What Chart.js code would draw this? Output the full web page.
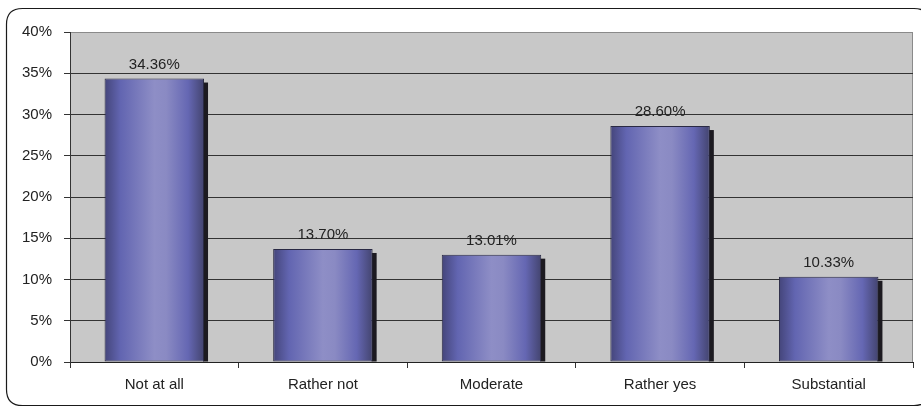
<!DOCTYPE html>
<html>
<head>
<meta charset="utf-8">
<script src="https://cdn.jsdelivr.net/npm/chart.js@4/dist/chart.umd.min.js"></script>
<style>
  html, body { margin: 0; padding: 0; background: #ffffff; }
  #wrap { width: 921px; height: 408px; position: relative; }
</style>
</head>
<body>
<div id="wrap"><canvas id="c" width="921" height="408"></canvas></div>
<script>
// Answer categories and their shares (percent)
const categories = ['Not at all', 'Rather not', 'Moderate', 'Rather yes', 'Substantial'];
const shares = [34.36, 13.70, 13.01, 28.60, 10.33];
const yTicks = [0, 5, 10, 15, 20, 25, 30, 35, 40];

const FONT = '"Liberation Sans", Arial, sans-serif';
const BAR_PCT = 0.59;

// Horizontal "cylinder" shading for each bar
function barGradient(context) {
  const chart = context.chart;
  const xs = chart.scales.x;
  if (!xs || !chart.chartArea) return '#7373b8';
  const cx = xs.getPixelForValue(context.dataIndex);
  const w = xs.width / categories.length * BAR_PCT;
  const g = chart.ctx.createLinearGradient(cx - w / 2, 0, cx + w / 2, 0);
  g.addColorStop(0.00, '#44457a');
  g.addColorStop(0.16, '#6265b1');
  g.addColorStop(0.50, '#8e8ec6');
  g.addColorStop(0.62, '#8a8ac3');
  g.addColorStop(0.84, '#6567b3');
  g.addColorStop(1.00, '#43446f');
  return g;
}

// Rounded frame around the whole chart and the grey plot background
const framePlugin = {
  id: 'frame',
  beforeDraw(chart) {
    const ctx = chart.ctx;
    const a = chart.chartArea;
    ctx.save();
    ctx.fillStyle = '#ffffff';
    ctx.fillRect(0, 0, chart.width, chart.height);
    const x0 = 6.5, y0 = 8.5, x1 = 930, y1 = 405.5, r = 16;
    ctx.beginPath();
    ctx.moveTo(x0 + r, y0);
    ctx.lineTo(x1 - r, y0);
    ctx.quadraticCurveTo(x1, y0, x1, y0 + r);
    ctx.lineTo(x1, y1 - r);
    ctx.quadraticCurveTo(x1, y1, x1 - r, y1);
    ctx.lineTo(x0 + r, y1);
    ctx.quadraticCurveTo(x0, y1, x0, y1 - r);
    ctx.lineTo(x0, y0 + r);
    ctx.quadraticCurveTo(x0, y0, x0 + r, y0);
    ctx.closePath();
    ctx.strokeStyle = '#1a1a1a';
    ctx.lineWidth = 1.2;
    ctx.stroke();
    ctx.fillStyle = '#c8c8c8';
    ctx.fillRect(a.left, a.top, a.right - a.left, a.bottom - a.top);
    ctx.strokeStyle = '#8a8a8a';
    ctx.lineWidth = 1;
    ctx.beginPath();
    ctx.moveTo(a.right - 0.5, a.top);
    ctx.lineTo(a.right - 0.5, a.bottom);
    ctx.stroke();
    ctx.restore();
  }
};

// Hard drop shadow to the right of each bar
const shadowPlugin = {
  id: 'barShadow',
  beforeDatasetsDraw(chart) {
    const ctx = chart.ctx;
    const meta = chart.getDatasetMeta(0);
    ctx.save();
    ctx.fillStyle = '#1c1a20';
    meta.data.forEach(bar => {
      const p = bar.getProps(['x', 'y', 'base', 'width'], true);
      const right = p.x + p.width / 2;
      ctx.fillRect(right - 1, p.y + 4, 5, p.base - p.y - 4);
    });
    ctx.restore();
  }
};

// Value labels above each bar
const valueLabels = {
  id: 'valueLabels',
  afterDatasetsDraw(chart) {
    const ctx = chart.ctx;
    const meta = chart.getDatasetMeta(0);
    ctx.save();
    ctx.font = '15px ' + FONT;
    ctx.fillStyle = '#222222';
    ctx.textAlign = 'center';
    ctx.textBaseline = 'alphabetic';
    meta.data.forEach((bar, i) => {
      ctx.fillText(shares[i].toFixed(2) + '%', bar.x, bar.y - 10);
    });
    ctx.restore();
  }
};

new Chart(document.getElementById('c'), {
  type: 'bar',
  data: {
    labels: categories,
    datasets: [{
      data: shares,
      backgroundColor: barGradient,
      borderColor: '#2a2a44',
      borderWidth: 1,
      borderSkipped: false,
      categoryPercentage: 1.0,
      barPercentage: BAR_PCT
    }]
  },
  options: {
    responsive: false,
    animation: false,
    devicePixelRatio: 1,
    layout: { padding: { left: 0, right: 8, top: 32, bottom: 0 } },
    plugins: {
      legend: { display: false },
      tooltip: { enabled: false }
    },
    scales: {
      x: {
        grid: {
          offset: true,
          drawOnChartArea: false,
          drawTicks: true,
          tickLength: 6,
          color: '#333333'
        },
        border: { color: '#222222', width: 1 },
        ticks: {
          padding: 8,
          color: '#222222',
          font: { family: FONT, size: 15 }
        },
        afterFit(scale) { scale.height = 46; }
      },
      y: {
        min: 0,
        max: 40,
        afterBuildTicks(scale) { scale.ticks = yTicks.map(v => ({ value: v })); },
        grid: {
          color: ctx => (ctx.tick && ctx.tick.value === 40) ? '#8a8a8a' : '#333333',
          tickColor: '#333333',
          tickLength: 6,
          lineWidth: 1
        },
        border: { color: '#333333', width: 1 },
        ticks: {
          padding: 12,
          color: '#222222',
          font: { family: FONT, size: 15 },
          callback: v => v + '%'
        },
        afterFit(scale) { scale.width = 70; }
      }
    }
  },
  plugins: [framePlugin, shadowPlugin, valueLabels]
});
</script>
</body>
</html>
